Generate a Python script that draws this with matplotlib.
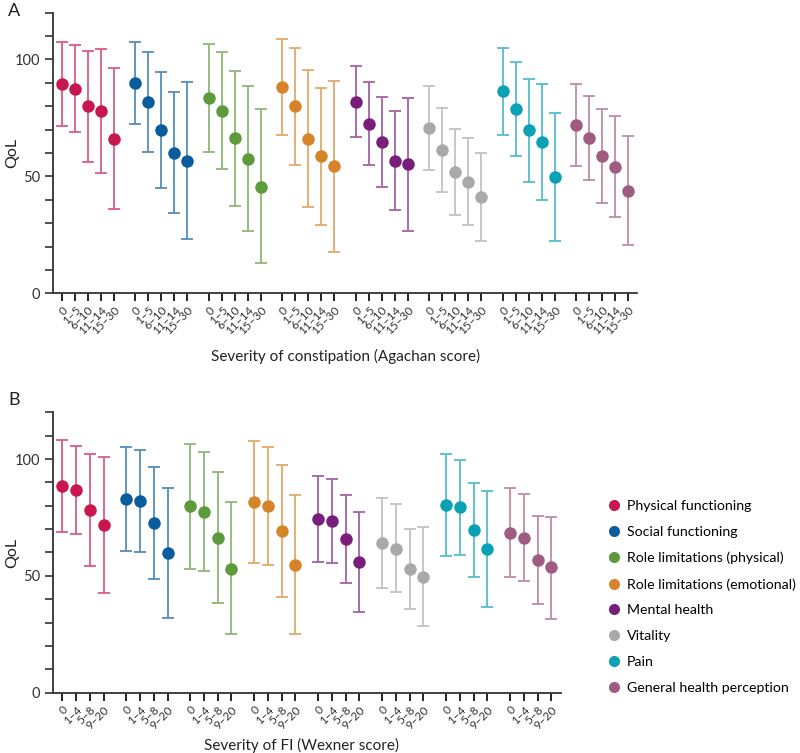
import numpy as np
import matplotlib
matplotlib.use('Agg')
from matplotlib import pyplot as plt
from matplotlib.lines import Line2D
from matplotlib.colors import to_rgb

plt.rcParams['font.family'] = ['Lato', 'DejaVu Sans']

domains = ['Physical functioning', 'Social functioning', 'Role limitations (physical)',
           'Role limitations (emotional)', 'Mental health', 'Vitality', 'Pain',
           'General health perception']
colors = ['#C8174F', '#0B5C9C', '#5C9A3C', '#D6842A', '#7A1E7C', '#A9A9A9', '#0BA1B4', '#A05C80']

# panel A: Agachan score categories
cats_a = ['0', '1\u20135', '6\u201310', '11\u201314', '15\u201330']
mean_a = [[89.7, 87.3, 80.1, 77.9, 66.1],
          [90.0, 81.9, 69.8, 60.1, 56.7],
          [83.6, 78.1, 66.2, 57.5, 45.6],
          [88.2, 80.1, 66.1, 58.5, 54.3],
          [81.9, 72.5, 64.7, 56.7, 55.3],
          [70.7, 61.4, 52.0, 47.7, 41.0],
          [86.3, 78.9, 69.7, 64.8, 49.6],
          [71.8, 66.4, 58.5, 54.0, 43.7]]
upper_a = [[107.5, 106.0, 103.7, 104.4, 96.4],
           [107.5, 103.0, 94.7, 85.9, 90.5],
           [106.8, 103.0, 95.2, 88.6, 78.8],
           [108.8, 105.0, 95.6, 87.7, 90.7],
           [97.2, 90.2, 84.0, 77.8, 83.6],
           [88.6, 79.3, 70.4, 66.2, 59.8],
           [105.0, 99.1, 91.7, 89.6, 76.9],
           [89.6, 84.3, 78.6, 75.6, 67.1]]
lower_a = [[71.4, 68.8, 56.1, 51.6, 35.9],
           [72.5, 60.5, 45.0, 34.3, 23.1],
           [60.4, 53.1, 37.5, 26.6, 12.8],
           [67.5, 55.0, 37.0, 29.3, 17.8],
           [66.7, 55.0, 45.3, 35.5, 26.8],
           [52.7, 43.2, 33.5, 29.1, 22.2],
           [67.5, 58.7, 47.4, 39.9, 22.2],
           [54.3, 48.3, 38.5, 32.5, 20.5]]

# panel B: Wexner score categories
cats_b = ['0', '1\u20134', '5\u20138', '9\u201320']
mean_b = [[88.4, 86.9, 78.0, 71.6],
          [82.9, 81.9, 72.6, 59.6],
          [79.7, 77.4, 66.4, 53.1],
          [81.4, 80.0, 69.1, 54.7],
          [74.3, 73.3, 65.7, 56.0],
          [64.0, 61.7, 52.9, 49.7],
          [80.3, 79.3, 69.6, 61.6],
          [68.3, 66.4, 56.7, 53.6]]
upper_b = [[108.0, 105.6, 102.0, 100.7],
           [105.1, 103.7, 96.4, 87.4],
           [106.4, 102.9, 94.6, 81.4],
           [107.6, 105.3, 97.4, 84.4],
           [92.7, 91.6, 84.6, 77.4],
           [83.3, 80.6, 70.1, 71.0],
           [102.1, 99.7, 89.9, 86.3],
           [87.4, 84.9, 75.6, 75.3]]
lower_b = [[68.9, 68.0, 54.1, 42.7],
           [60.6, 60.1, 48.6, 31.9],
           [53.0, 52.1, 38.4, 25.0],
           [55.4, 54.7, 40.9, 25.1],
           [56.0, 55.3, 47.0, 34.7],
           [44.7, 42.9, 35.6, 28.4],
           [58.4, 58.9, 49.4, 36.7],
           [49.3, 48.0, 37.9, 31.7]]


def lighten(c, amt=0.3):
    r = np.array(to_rgb(c))
    return tuple(r + (1 - r) * amt)


def draw_panel(ax, cats, means, uppers, lowers, gap, xlabel, ylab_x, xlab_pos):
    n = len(cats)
    ticks = []
    labels = []
    for g in range(len(means)):
        x = g * (n + gap) + np.arange(n)
        m = np.array(means[g])
        err = [m - np.array(lowers[g]), np.array(uppers[g]) - m]
        ax.errorbar(x, m, yerr=err, fmt='none', ecolor=lighten(colors[g], 0.3),
                    elinewidth=1.3, capsize=4, capthick=1.3, zorder=2)
        ax.plot(x, m, 'o', color=colors[g], ms=9, mec='none', zorder=3)
        ticks.extend(x)
        labels.extend(cats)
    ax.set_xticks(ticks)
    ax.set_xticklabels(labels, rotation=45, ha='right', rotation_mode='anchor',
                       fontsize=8.5, color='#333333')
    ax.set_xlim(ticks[0] - 0.66, ticks[-1] + 0.7)
    ax.set_ylim(0, 120)
    ax.set_yticks([0, 50, 100])
    ax.set_yticks(np.arange(0, 121, 10), minor=True)
    ax.tick_params(axis='y', which='both', length=6, width=1.2, labelsize=10.5,
                   colors='#333333')
    ax.tick_params(axis='x', length=6, width=1.2, pad=2)
    for s in ['top', 'right']:
        ax.spines[s].set_visible(False)
    for s in ['left', 'bottom']:
        ax.spines[s].set_linewidth(1.3)
        ax.spines[s].set_color('#333333')
    ax.set_ylabel('QoL', fontsize=11.5, color='#222222', va='center')
    ax.yaxis.set_label_coords(ylab_x, 0.5)
    ax.set_xlabel(xlabel, fontsize=11, color='#222222', va='center')
    ax.xaxis.set_label_coords(*xlab_pos)


fig = plt.figure(figsize=(8, 7.53), dpi=100)
ax_a = fig.add_axes([0.0667, 0.6105, 0.73, 0.3727])
ax_b = fig.add_axes([0.0667, 0.0801, 0.6346, 0.3724])

draw_panel(ax_a, cats_a, mean_a, upper_a, lower_a, 0.65,
           'Severity of constipation (Agachan score)', -0.0707, (0.4995, -0.2235))
draw_panel(ax_b, cats_b, mean_b, upper_b, lower_b, 0.67,
           'Severity of FI (Wexner score)', -0.081, (0.488, -0.19))

fig.text(0.01, 0.996, 'A', fontsize=13, va='top', color='#222222')
fig.text(0.01, 0.479, 'B', fontsize=13, va='top', color='#222222')

handles = [Line2D([], [], ls='none', marker='o', ms=8, color=c, mec='none') for c in colors]
fig.legend(handles, domains, loc='upper left', bbox_to_anchor=(0.75, 0.343),
           frameon=False, fontsize=10.2, handletextpad=0.3, labelspacing=0.97,
           handlelength=1.2, borderaxespad=0)

fig.savefig('out.png', dpi=100)
